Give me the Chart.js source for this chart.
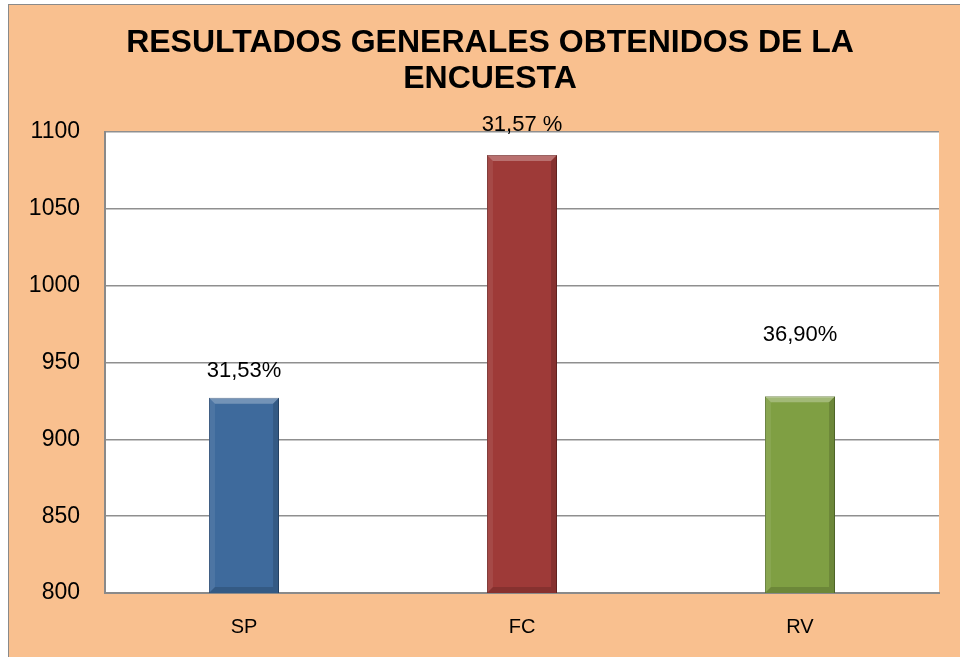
<!DOCTYPE html>
<html>
<head>
<meta charset="utf-8">
<script src="https://cdn.jsdelivr.net/npm/chart.js@4/dist/chart.umd.min.js"></script>
<style>
  body { margin: 0; background: #ffffff; }
  #frame {
    position: absolute; left: 8px; top: 4px;
    width: 951px; height: 652px;
    border-left: 1px solid #8a8a8a; border-top: 1px solid #8a8a8a;
    background: #f9c08f; overflow: hidden;
  }
  #frame canvas { position: absolute; left: 0; top: 0; }
</style>
</head>
<body>
<div id="frame"><canvas id="surveyChart" width="962" height="652"></canvas></div>
<script>
const categories = ["SP", "FC", "RV"];
const results = [927, 1085, 928];
const percentLabels = ["31,53%", "31,57 %", "36,90%"];
const barColors = ["#3e6a9c", "#9e3a38", "#7f9f43"];
const barEdges = ["#2b4d75", "#742826", "#5c7630"];
const yTicks = [800, 850, 900, 950, 1000, 1050, 1100];

// how far above each bar top the percentage sits (pixels)
const labelOffsets = [27, 30, 61];

const whitePlot = {
    id: "whitePlot",
    beforeDraw(chart) {
        const a = chart.chartArea;
        chart.ctx.save();
        chart.ctx.fillStyle = "#ffffff";
        chart.ctx.fillRect(a.left, a.top, a.right - a.left, a.bottom - a.top);
        chart.ctx.restore();
    }
};

// rough imitation of the bevelled bars
const bevel = {
    id: "bevel",
    afterDatasetsDraw(chart) {
        const ctx = chart.ctx;
        const b = 6;
        chart.getDatasetMeta(0).data.forEach(bar => {
            const x0 = bar.x - bar.width / 2, x1 = bar.x + bar.width / 2;
            const y0 = bar.y, y1 = Math.min(bar.base, chart.chartArea.bottom);
            const side = (pts, color) => {
                ctx.beginPath();
                ctx.moveTo(pts[0][0], pts[0][1]);
                pts.slice(1).forEach(p => ctx.lineTo(p[0], p[1]));
                ctx.closePath();
                ctx.fillStyle = color;
                ctx.fill();
            };
            ctx.save();
            side([[x0, y0], [x1, y0], [x1 - b, y0 + b], [x0 + b, y0 + b]], "rgba(255,255,255,0.28)");
            side([[x0, y0], [x0 + b, y0 + b], [x0 + b, y1 - b], [x0, y1]], "rgba(255,255,255,0.08)");
            side([[x1, y0], [x1 - b, y0 + b], [x1 - b, y1 - b], [x1, y1]], "rgba(0,0,0,0.15)");
            side([[x0, y1], [x0 + b, y1 - b], [x1 - b, y1 - b], [x1, y1]], "rgba(0,0,0,0.15)");
            ctx.restore();
        });
    }
};

const percentText = {
    id: "percentText",
    afterDatasetsDraw(chart) {
        const ctx = chart.ctx;
        const bars = chart.getDatasetMeta(0).data;
        ctx.save();
        ctx.font = "22px 'Liberation Sans', Arial, sans-serif";
        ctx.fillStyle = "#000000";
        ctx.textAlign = "center";
        ctx.textBaseline = "middle";
        bars.forEach((bar, i) => {
            ctx.fillText(percentLabels[i], bar.x, bar.y - labelOffsets[i]);
        });
        ctx.restore();
    }
};

new Chart(document.getElementById("surveyChart"), {
    type: "bar",
    data: {
        labels: categories,
        datasets: [{
            data: results,
            backgroundColor: barColors,
            borderColor: barEdges,
            borderWidth: 1,
            categoryPercentage: 1,
            barPercentage: 0.252
        }]
    },
    options: {
        responsive: false,
        animation: false,
        layout: { padding: 0 },
        plugins: {
            legend: { display: false },
            tooltip: { enabled: false },
            title: {
                display: true,
                text: ["RESULTADOS GENERALES OBTENIDOS DE LA", "ENCUESTA"],
                color: "#000000",
                font: { family: "'Liberation Sans', Arial, sans-serif", size: 32, weight: "bold", lineHeight: 36 / 32 },
                padding: { top: 20, bottom: 35 }
            }
        },
        scales: {
            x: {
                grid: { display: false, drawTicks: false },
                border: { display: true, color: "#8a8a8a", width: 2 },
                ticks: {
                    color: "#000000",
                    padding: 22,
                    font: { family: "'Liberation Sans', Arial, sans-serif", size: 20 }
                },
                afterFit(scale) { scale.height = 64; }
            },
            y: {
                min: 800,
                max: 1100,
                afterBuildTicks(scale) { scale.ticks = yTicks.map(v => ({ value: v })); },
                grid: { color: "#8f8f8f", lineWidth: 1.5, drawTicks: false },
                border: { display: true, color: "#8a8a8a", width: 2 },
                ticks: {
                    color: "#000000",
                    padding: 25,
                    font: { family: "'Liberation Sans', Arial, sans-serif", size: 23 },
                    callback: v => String(v)
                },
                afterFit(scale) { scale.width = 96; }
            },
            // empty strip on the right, keeps the title centred like the original
            spacer: {
                position: "right",
                min: 800,
                max: 1100,
                grid: { display: false, drawTicks: false },
                border: { display: false },
                ticks: { display: false },
                afterFit(scale) { scale.width = 32; }
            }
        }
    },
    plugins: [whitePlot, bevel, percentText]
});
</script>
</body>
</html>
